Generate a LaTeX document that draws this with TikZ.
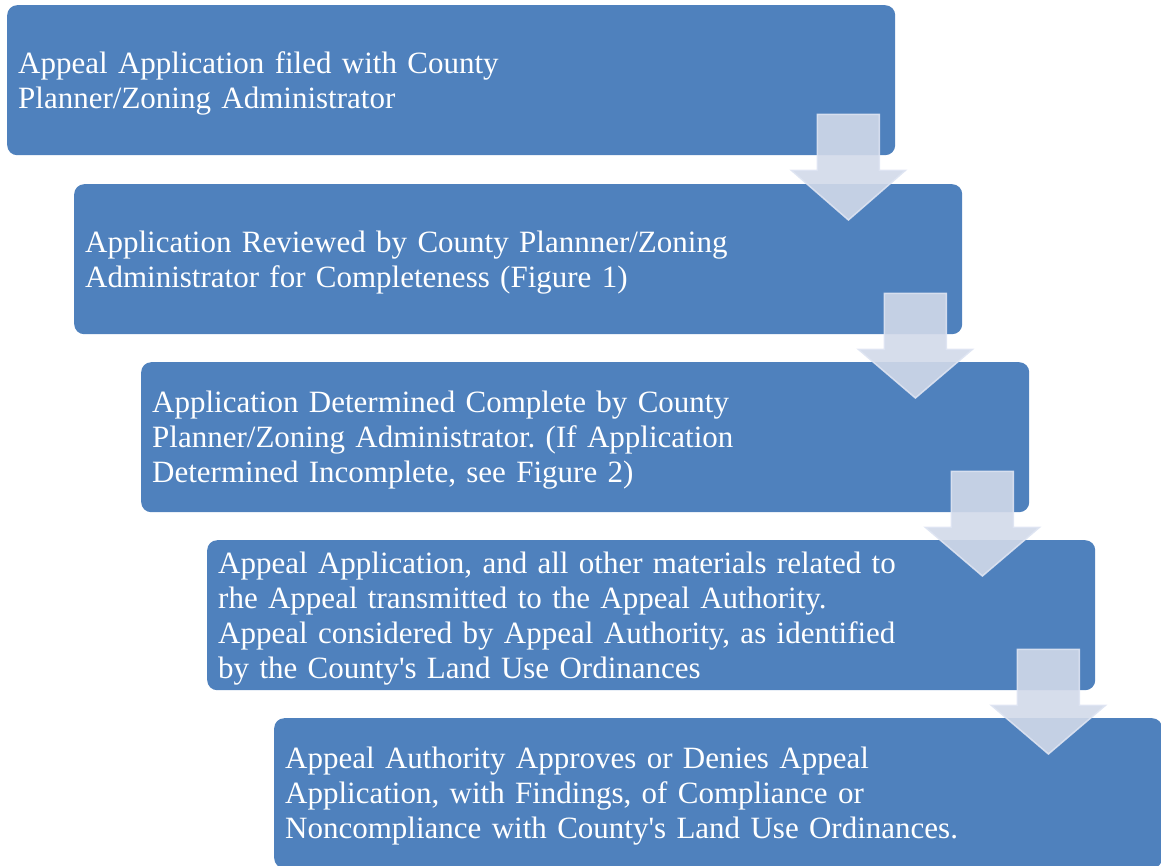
\documentclass[tikz,border=0pt]{standalone}
\usepackage{fontspec}
\setmainfont{Liberation Serif}
\usetikzlibrary{calc}
\definecolor{boxblue}{HTML}{4F81BD}
\definecolor{arrowfill}{RGB}{209,217,233}
\definecolor{arrowline}{RGB}{222,228,242}
\tikzset{
  stepbox/.style={fill=boxblue, rounded corners=10pt, minimum width=888pt,
    minimum height=150pt, text width=866pt, inner xsep=11pt, inner ysep=0pt,
    align=left, text=white, font=\fontsize{31}{35}\selectfont\frenchspacing,
    execute at begin node={\rule{0pt}{28pt}}, anchor=north west},
  flowarrow/.style={fill=arrowfill, fill opacity=0.9, draw=arrowline,
    draw opacity=0.9, line width=1.5pt, line join=miter}
}
\begin{document}
\begin{tikzpicture}[x=1pt,y=-1pt]
\useasboundingbox (0,0) rectangle (1161,865);
\clip (0,0) rectangle (1161,865);
\node[stepbox] (b1) at (7,5) {Appeal Application filed with County\\Planner/Zoning Administrator};
\node[stepbox] (b2) at (74,184) {Application Reviewed by County Plannner/Zoning\\Administrator for Completeness (Figure 1)};
\node[stepbox] (b3) at (141,362) {Application Determined Complete by County\\Planner/Zoning Administrator. (If Application\\Determined Incomplete, see Figure 2)};
\node[stepbox] (b4) at (207,540) {Appeal Application, and all other materials related to\\rhe Appeal transmitted to the Appeal Authority.\\Appeal considered by Appeal Authority, as identified\\by the County\textquotesingle s Land Use Ordinances};
\node[stepbox] (b5) at (274,718) {Appeal Authority Approves or Denies Appeal\\Application, with Findings, of Compliance or\\Noncompliance with County\textquotesingle s Land Use Ordinances.};
\foreach \a/\b in {b1/b2, b2/b3, b3/b4, b4/b5}{
  \draw[flowarrow] ($(\a.south east)+(-78,-41)$) -- ++(62,0) -- ++(0,56) -- ++(26,0)
     -- ($(\a.south east |- \b.north)+(-47,36)$) -- ($(\a.south east)+(-104,15)$) -- ++(26,0) -- cycle;
}
\end{tikzpicture}
\end{document}
